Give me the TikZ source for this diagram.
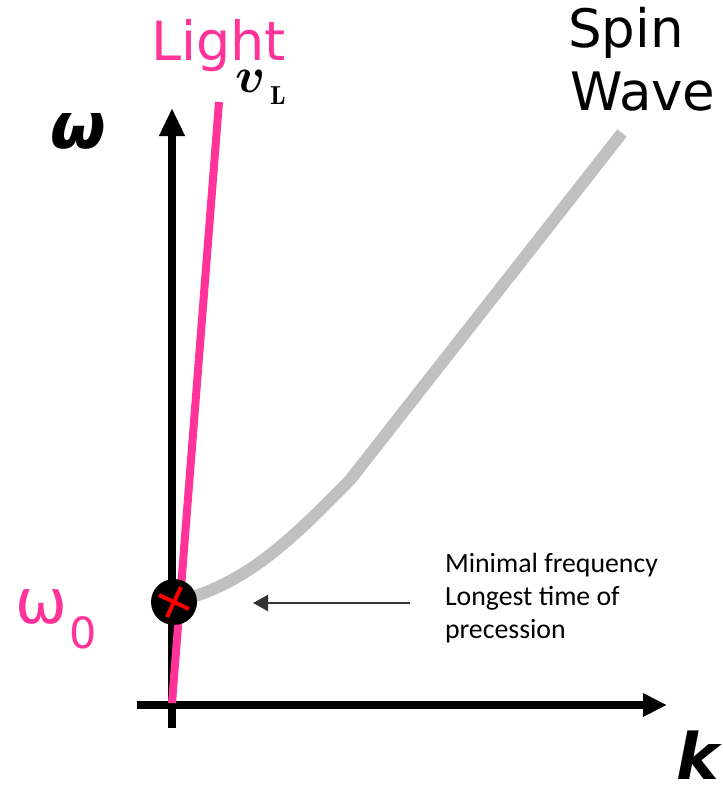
\RequirePackage{fix-cm}
\documentclass[tikz,border=0pt]{standalone}
\usepackage{fontspec}
\usepackage{amsmath}
\usetikzlibrary{arrows.meta,calc}
\newfontfamily\dejavu{DejaVu Sans}
\newfontfamily\carlito{Carlito}
\definecolor{lightpink}{RGB}{255,51,153}
\definecolor{spingray}{RGB}{192,192,192}
\definecolor{notegray}{RGB}{51,51,51}
\tikzset{
  axisline/.style={line width=8pt, black, -{Triangle[length=28pt,width=24pt]}},
  lightline/.style={line width=8pt, lightpink},
  spinline/.style={line width=12pt, spingray},
  noteline/.style={line width=2pt, notegray, -{Triangle[length=15pt,width=16pt]}},
  lbl/.style={inner sep=0pt, outer sep=0pt},
}
\begin{document}
\begin{tikzpicture}[x=1pt,y=-1pt]
\useasboundingbox (0,0) rectangle (723,793);
% axes
\coordinate (ybot) at (172,728);
\coordinate (ytop) at (172,108);
\coordinate (xleft) at (137,705);
\coordinate (xright) at (667,705);
\draw[axisline] (ybot) -- (ytop);
\draw[axisline, -{Triangle[length=24pt,width=22pt]}] (xleft) -- (xright);
% light line
\coordinate (lbot) at (172,703);
\coordinate (ltop) at (219,102);
\draw[lightline] (lbot) -- (ltop);
% spin wave
\coordinate (s0) at (174,602);
\coordinate (s1) at (350,480);
\coordinate (s2) at (622,133);
\draw[spinline] (s0) .. controls (250,585) and (300,530) .. (s1) -- (s2);
% point
\node[circle, fill=black, minimum size=46pt, inner sep=0pt] (pt) at (174,602) {};
\draw[red, line width=4pt] ($(pt.center)+(-15,-7)$) -- ($(pt.center)+(15,7)$);
\draw[red, line width=4pt] ($(pt.center)+(7,-15)$) -- ($(pt.center)+(-7,15)$);
% note
\node[lbl, anchor=base west, align=left, font=\carlito\fontsize{27.8}{33}\selectfont] (note) at (445,638) {Minimal frequency\\Longest time of\\precession};
\coordinate (nstart) at (410,603);
\coordinate (nend) at (253,603);
\draw[noteline] (nstart) -- (nend);
% labels
\node[lbl, anchor=base west, text=lightpink, font=\dejavu\fontsize{54}{60}\selectfont] (light) at (151,60) {Light};
\node[lbl, font=\fontsize{50}{60}\selectfont] (vv) at (251,81) {$\boldsymbol{v}$};
\node[lbl, font=\fontsize{26}{30}\selectfont] (vl) at (278,96) {$\mathbf{L}$};
\node[lbl, anchor=base west, font=\dejavu\fontsize{53}{60}\selectfont] (spin) at (568,47) {Spin};
\node[lbl, anchor=base west, font=\dejavu\fontsize{53}{60}\selectfont] (wave) at (570,110) {Wave};
\node[lbl, font=\dejavu\bfseries\itshape\fontsize{64}{70}\selectfont] (om) at (78,131) {ω};
\node[lbl, font=\dejavu\bfseries\itshape\fontsize{64}{80}\selectfont] (k) at (698,755) {k};
\node[lbl, text=lightpink, font=\dejavu\fontsize{62}{70}\selectfont] (om0) at (41,607) {ω};
\node[lbl, text=lightpink, font=\dejavu\fontsize{43}{50}\selectfont] (om0s) at (83,633) {0};
\end{tikzpicture}
\end{document}
